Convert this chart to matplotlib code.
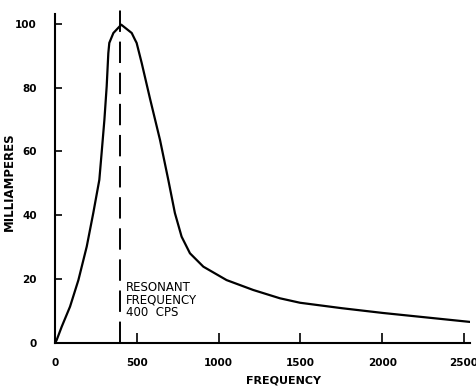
import matplotlib
matplotlib.use("Agg")
import matplotlib.pyplot as plt

# values
freq = [0, 10, 41, 92, 143, 194, 234, 271, 285, 302, 316, 326, 332, 357,
        405, 469, 489, 499, 530, 581, 642, 693, 733, 774,
        825, 907, 1049, 1212, 1375, 1498, 1753, 2005, 2537]
milliamps = [0, 0.9, 5.1, 11.4, 19.7, 30.2, 40.7, 51.1, 59.5, 69.9, 80.4,
             90.8, 94, 97.1, 99.7, 97.1, 95, 94, 87.7, 76.5, 63.6,
             51, 40.7, 33.3, 28.1, 23.9, 19.7, 16.6, 14, 12.6, 10.9,
             9.4, 6.6]
resonant = 400
xticks = [0, 500, 1000, 1500, 2000, 2500]
yticks = [0, 20, 40, 60, 80, 100]

fig = plt.figure(figsize=(4.77, 3.91), dpi=100)
ax = fig.add_axes([0.1153, 0.1228, 0.87, 0.841])

ax.plot(freq, milliamps, color="black", lw=1.6, solid_joinstyle="round")
ax.plot([resonant, resonant], [0, 106], color="black", lw=1.4,
        dashes=(11, 5), clip_on=False)

ax.set_xlim(0, 2537)
ax.set_ylim(0, 103)
ax.set_xticks(xticks)
ax.set_yticks(yticks)
ax.set_xticklabels([str(t) for t in xticks], fontsize=7.5, fontweight="heavy")
ax.set_yticklabels([str(t) for t in yticks], fontsize=7.5, fontweight="heavy")
ax.tick_params(direction="in", length=5, width=1.2, pad=13)
ax.tick_params(axis="x", length=7, pad=11)

for side in ["top", "right"]:
    ax.spines[side].set_visible(False)
for side in ["left", "bottom"]:
    ax.spines[side].set_linewidth(1.5)

ax.set_xlabel("FREQUENCY", fontsize=8, fontweight="bold")
ax.xaxis.set_label_coords(0.55, -0.1)
ax.set_ylabel("MILLIAMPERES", fontsize=8.5, fontweight="bold")
ax.yaxis.set_label_coords(-0.095, 0.49)

ax.text(434, 7.5, "RESONANT\nFREQUENCY\n400  CPS", fontsize=8.5,
        ha="left", va="bottom", linespacing=0.95)

fig.savefig("out.png", dpi=100)
